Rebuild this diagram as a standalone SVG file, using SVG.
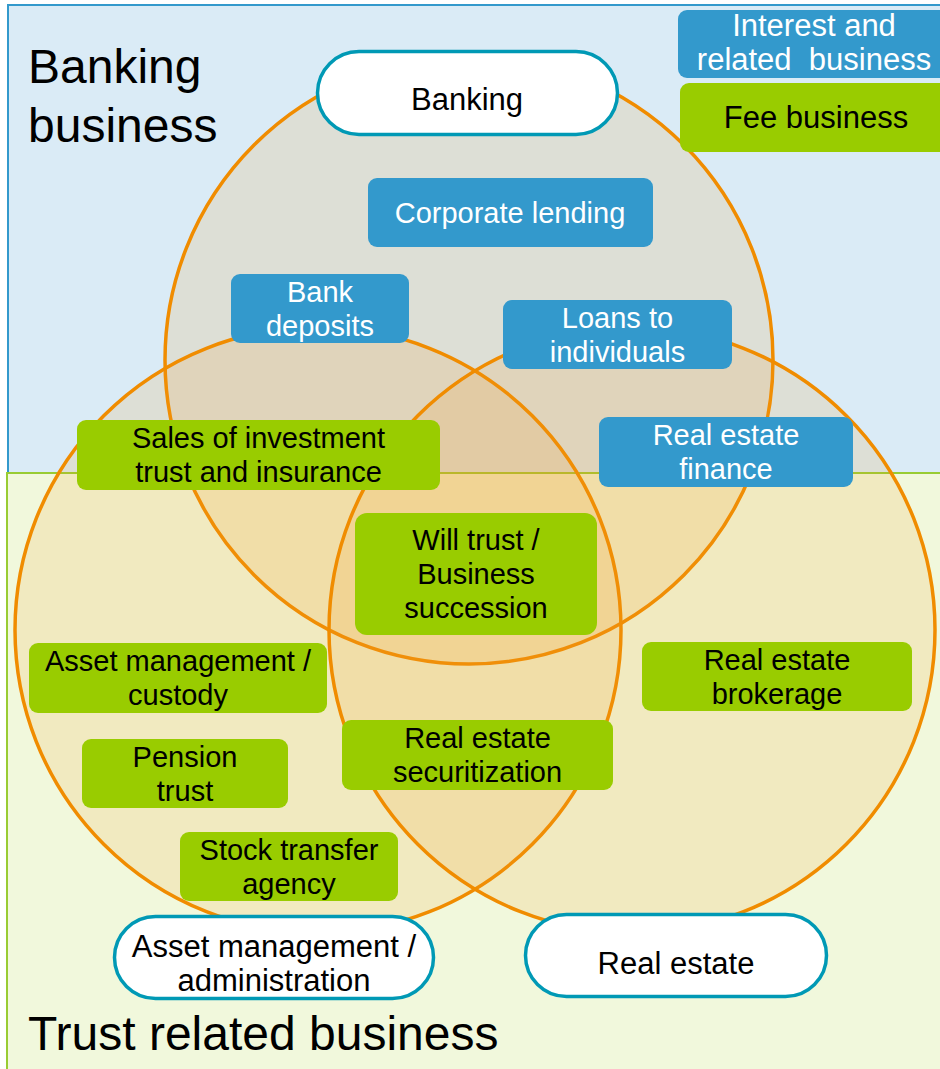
<svg xmlns="http://www.w3.org/2000/svg" width="940" height="1069" viewBox="0 0 940 1069">
  <style>
    text { font-family: "Liberation Sans", Arial, sans-serif; text-anchor: middle; }
    .title { font-size: 48px; fill: #000; text-anchor: start; }
    .blue rect { fill: #3399CC; }
    .blue text { fill: #fff; font-size: 29px; }
    .green rect { fill: #99CC00; }
    .green text { fill: #000; font-size: 29px; }
    .pill rect { fill: #fff; stroke: #0099B5; stroke-width: 3.5; }
    .pill text { fill: #000; font-size: 31px; }
    .legend text { font-size: 31px; }
    .ring { fill: #F29A1F; fill-opacity: 0.15; stroke: #F08C00; stroke-width: 3.5; }
  </style>

  <!-- background areas -->
  <g id="banking-area">
    <rect x="8" y="5" width="940" height="468" fill="#DAEBF6" stroke="#3399CC" stroke-width="2"/>
    <text class="title" x="28" y="83">Banking</text>
    <text class="title" x="28" y="142">business</text>
  </g>
  <g id="trust-area">
    <rect x="7" y="473" width="940" height="600" fill="#F1F8DC" stroke="#99CC33" stroke-width="2"/>
  </g>

  <!-- overlapping business circles -->
  <g id="circles">
    <circle class="ring" cx="469" cy="360" r="304"/>
    <circle class="ring" cx="318" cy="630" r="303"/>
    <circle class="ring" cx="632" cy="630" r="303"/>
  </g>

  <g id="title-trust">
    <text class="title" x="28" y="1050">Trust related business</text>
  </g>

  <!-- legend -->
  <g id="legend-interest" class="blue legend">
    <rect x="678" y="10" width="270" height="68" rx="9"/>
    <text x="814" y="36">Interest and</text>
    <text x="814" y="70" style="white-space:pre">related  business</text>
  </g>
  <g id="legend-fee" class="green legend">
    <rect x="680" y="83" width="270" height="69" rx="9"/>
    <text x="816" y="128">Fee business</text>
  </g>

  <!-- circle headings -->
  <g id="pill-banking" class="pill">
    <rect x="317.5" y="51.5" width="300" height="83" rx="41.5"/>
    <text x="467" y="110">Banking</text>
  </g>
  <g id="pill-asset" class="pill">
    <rect x="114.5" y="916.5" width="319" height="82" rx="41"/>
    <text x="274" y="957">Asset management /</text>
    <text x="274" y="991">administration</text>
  </g>
  <g id="pill-realestate" class="pill">
    <rect x="525.5" y="914.5" width="301" height="82" rx="41"/>
    <text x="676" y="974">Real estate</text>
  </g>

  <!-- interest businesses -->
  <g id="corporate-lending" class="blue">
    <rect x="368" y="178" width="285" height="69" rx="9"/>
    <text x="510" y="223">Corporate lending</text>
  </g>
  <g id="bank-deposits" class="blue">
    <rect x="231" y="274" width="178" height="69" rx="9"/>
    <text x="320" y="302">Bank</text>
    <text x="320" y="336">deposits</text>
  </g>
  <g id="loans-individuals" class="blue">
    <rect x="503" y="300" width="229" height="69" rx="9"/>
    <text x="617.5" y="327.5">Loans to</text>
    <text x="617.5" y="361.5">individuals</text>
  </g>
  <g id="real-estate-finance" class="blue">
    <rect x="599" y="417" width="254" height="70" rx="9"/>
    <text x="726" y="445">Real estate</text>
    <text x="726" y="479">finance</text>
  </g>

  <!-- fee businesses -->
  <g id="sales-investment" class="green">
    <rect x="77" y="420" width="363" height="70" rx="9"/>
    <text x="258.5" y="448">Sales of investment</text>
    <text x="258.5" y="482">trust and insurance</text>
  </g>
  <g id="will-trust" class="green">
    <rect x="355" y="513" width="242" height="122" rx="12"/>
    <text x="476" y="550">Will trust /</text>
    <text x="476" y="584">Business</text>
    <text x="476" y="618">succession</text>
  </g>
  <g id="asset-custody" class="green">
    <rect x="29" y="643" width="298" height="70" rx="9"/>
    <text x="178" y="671">Asset management /</text>
    <text x="178" y="705">custody</text>
  </g>
  <g id="real-estate-brokerage" class="green">
    <rect x="642" y="642" width="270" height="69" rx="9"/>
    <text x="777" y="670">Real estate</text>
    <text x="777" y="704">brokerage</text>
  </g>
  <g id="pension-trust" class="green">
    <rect x="82" y="739" width="206" height="69" rx="9"/>
    <text x="185" y="767">Pension</text>
    <text x="185" y="801">trust</text>
  </g>
  <g id="real-estate-securitization" class="green">
    <rect x="342" y="720" width="271" height="70" rx="9"/>
    <text x="477.5" y="748">Real estate</text>
    <text x="477.5" y="782">securitization</text>
  </g>
  <g id="stock-transfer" class="green">
    <rect x="180" y="832" width="218" height="69" rx="9"/>
    <text x="289" y="860">Stock transfer</text>
    <text x="289" y="894">agency</text>
  </g>
</svg>
